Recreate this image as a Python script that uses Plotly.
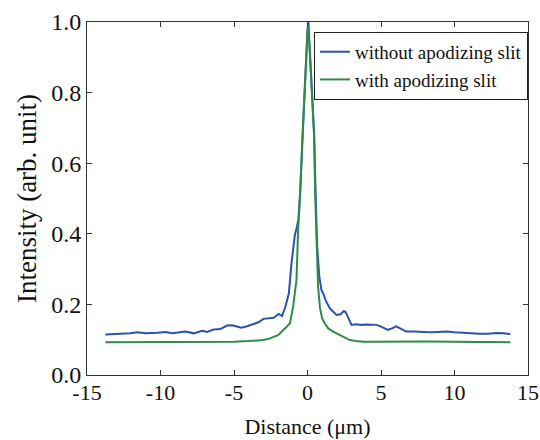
import plotly.graph_objects as go

# Data
blue_x = [-13.75, -12.7, -12.05, -11.6, -11.0, -10.2, -9.65, -9.2, -8.9, -8.3, -7.73, -7.17,
          -6.83, -6.38, -5.93, -5.47, -5.13, -4.8, -4.5, -4.1, -3.7, -3.3, -3.0, -2.6, -2.3,
          -1.96, -1.73, -1.5, -1.27, -1.09, -0.86, -0.72, -0.62, -0.5, -0.34, -0.15, 0.0,
          0.06, 0.15, 0.3, 0.45, 0.55, 0.65, 0.8, 0.95, 1.07, 1.25, 1.52, 1.75, 1.97, 2.25,
          2.47, 2.6, 2.76, 2.99, 3.33, 3.67, 4.0, 4.35, 4.7, 5.0, 5.47, 5.75, 6.04, 6.4,
          6.72, 7.2, 7.63, 8.3, 8.9, 9.44, 10.0, 10.57, 11.1, 11.7, 12.3, 12.84, 13.3, 13.8]
blue_y = [0.115, 0.116, 0.118, 0.121, 0.118, 0.120, 0.122, 0.118, 0.120, 0.123, 0.118, 0.125,
          0.122, 0.129, 0.130, 0.140, 0.141, 0.138, 0.134, 0.138, 0.143, 0.150, 0.159, 0.161,
          0.162, 0.173, 0.167, 0.194, 0.231, 0.316, 0.397, 0.42, 0.44, 0.52, 0.68, 0.86, 0.98,
          1.0, 0.92, 0.80, 0.68, 0.52, 0.37, 0.28, 0.24, 0.231, 0.21, 0.189, 0.178, 0.170,
          0.172, 0.181, 0.178, 0.165, 0.142, 0.144, 0.142, 0.143, 0.143, 0.142, 0.137, 0.128,
          0.132, 0.138, 0.130, 0.123, 0.123, 0.122, 0.121, 0.122, 0.123, 0.121, 0.119, 0.119,
          0.117, 0.117, 0.119, 0.118, 0.116]

green_x = [-13.75, -12.0, -10.0, -8.0, -6.0, -5.0, -4.0, -3.0, -2.6, -2.3, -2.0, -1.66, -1.4,
           -1.2, -0.98, -0.82, -0.75, -0.64, -0.5, -0.34, -0.15, 0.0, 0.06, 0.15, 0.3, 0.45,
           0.52, 0.61, 0.72, 0.85, 1.0, 1.18, 1.41, 1.74, 1.97, 2.2, 2.42, 2.88, 3.3, 3.79,
           4.5, 6.0, 8.0, 10.0, 12.0, 13.8]
green_y = [0.093, 0.093, 0.093, 0.093, 0.093, 0.094, 0.096, 0.099, 0.103, 0.108, 0.113, 0.127,
           0.137, 0.146, 0.193, 0.24, 0.269, 0.41, 0.51, 0.68, 0.85, 0.97, 0.99, 0.92, 0.80,
           0.68, 0.51, 0.363, 0.25, 0.19, 0.16, 0.146, 0.132, 0.123, 0.118, 0.113, 0.108,
           0.099, 0.096, 0.094, 0.094, 0.095, 0.095, 0.094, 0.094, 0.093]

x_ticks = [-15, -10, -5, 0, 5, 10, 15]
y_ticks = [0.0, 0.2, 0.4, 0.6, 0.8, 1.0]
y_ticklabels = ["0.0", "0.2", "0.4", "0.6", "0.8", "1.0"]

FONT = "Liberation Serif"

fig = go.Figure()
fig.add_trace(go.Scatter(x=blue_x, y=blue_y, mode="lines", name="without apodizing slit",
                         line=dict(color="#2B52AE", width=2)))
fig.add_trace(go.Scatter(x=green_x, y=green_y, mode="lines", name="with apodizing slit",
                         line=dict(color="#2E8B48", width=2)))

axis_common = dict(showline=True, linecolor="#333333", linewidth=1, mirror="ticks",
                   ticks="inside", ticklen=5, tickcolor="#333333", showgrid=False,
                   zeroline=False, automargin=False)

fig.update_layout(
    width=540, height=440,
    margin=dict(l=87, r=12, t=22, b=65),
    paper_bgcolor="white", plot_bgcolor="white",
    font=dict(family=FONT, color="#111111"),
    xaxis=dict(range=[-15, 15], tickvals=x_ticks, ticktext=[str(v) for v in x_ticks],
               tickfont=dict(family=FONT, size=22, color="#111111"), ticklabelstandoff=-2,
               title=dict(text="Distance (μm)", font=dict(family=FONT, size=22), standoff=14),
               **axis_common),
    yaxis=dict(range=[0, 1.0], tickvals=y_ticks, ticktext=y_ticklabels,
               tickfont=dict(family=FONT, size=24, color="#111111"),
               title=dict(text="Intensity (arb. unit)", font=dict(family=FONT, size=27), standoff=6),
               **axis_common),
    legend=dict(x=1.0, xanchor="right", y=0.972, yanchor="top",
                bordercolor="#222222", borderwidth=1, bgcolor="white",
                font=dict(family=FONT, size=19), itemwidth=30, tracegroupgap=0),
    showlegend=True,
)

fig.write_html("out.html", config={"displayModeBar": False},
               post_script="document.body.style.margin='0';document.body.style.overflow='hidden';")
